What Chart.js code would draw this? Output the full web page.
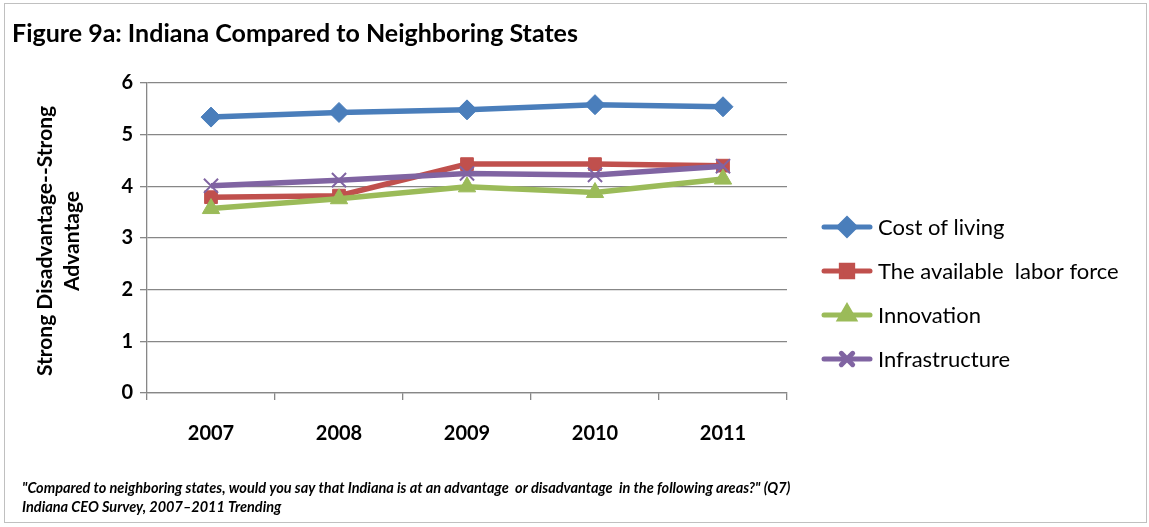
<!DOCTYPE html>
<html>
<head>
<meta charset="utf-8">
<script src="https://cdn.jsdelivr.net/npm/chart.js@4/dist/chart.umd.min.js"></script>
<style>
  html, body { margin: 0; padding: 0; background: #fff; }
  #wrap { width: 1149px; height: 527px; }
</style>
</head>
<body>
<div id="wrap"><canvas id="chart" width="1149" height="527"></canvas></div>
<script>
// --- data ---
const years = ["2007", "2008", "2009", "2010", "2011"];
const costOfLiving = [5.34, 5.43, 5.48, 5.58, 5.54];
const laborForce = [3.79, 3.82, 4.43, 4.43, 4.40];
const innovation = [3.57, 3.76, 3.99, 3.88, 4.14];
const infrastructure = [4.01, 4.12, 4.25, 4.22, 4.39];
const yTicks = [0, 1, 2, 3, 4, 5, 6];

const titleText = "Figure 9a: Indiana Compared to Neighboring States";
const yTitle = ["Strong Disadvantage--Strong", "Advantage"];
const noteLines = [
  "\"Compared to neighboring states, would you say that Indiana is at an advantage  or disadvantage  in the following areas?\" (Q7)",
  "Indiana CEO Survey, 2007\u20132011 Trending"
];

const FONT = "Lato, 'Open Sans', sans-serif";
const gridColor = "#878787";

function series(label, data, color, style, radius, order) {
  return {
    label, data,
    borderColor: color,
    backgroundColor: color,
    borderWidth: 5.5,
    pointStyle: style,
    pointRadius: radius,
    pointHoverRadius: radius,
    pointBorderWidth: style === "crossRot" ? 2 : 1,
    tension: 0,
    order
  };
}

const datasets = [
  series("Cost of living", costOfLiving, "#4a7ebb", "rectRot", 10, 4),
  series("The available  labor force", laborForce, "#c0504d", "rect", 9, 3),
  series("Innovation", innovation, "#9bbb59", "triangle", 10, 2),
  series("Infrastructure", infrastructure, "#8064a2", "crossRot", 10, 1)
];

// text, frame and Excel-style legend
const decorations = {
  id: "decorations",
  afterDraw(chart) {
    const ctx = chart.ctx;
    ctx.save();
    // outer frame
    ctx.strokeStyle = "#c0c0c0";
    ctx.lineWidth = 1;
    ctx.strokeRect(4.5, 3.5, 1142, 519);

    // title
    ctx.fillStyle = "#000";
    ctx.textBaseline = "middle";
    ctx.textAlign = "left";
    ctx.font = "bold 25px " + FONT;
    ctx.fillText(titleText, 12, 34);

    // y axis title
    ctx.save();
    ctx.translate(45, 241);
    ctx.rotate(-Math.PI / 2);
    ctx.textAlign = "center";
    ctx.font = "bold 21px " + FONT;
    ctx.fillText(yTitle[0], 0, 0);
    ctx.fillText(yTitle[1], 0, 27);
    ctx.restore();

    // footnote
    ctx.font = "italic bold 14.5px " + FONT;
    ctx.fillText(noteLines[0], 22, 488);
    ctx.fillText(noteLines[1], 22, 507);

    // legend
    ctx.font = "22px " + FONT;
    chart.data.datasets.forEach((ds, i) => {
      const y = 227 + i * 44;
      ctx.strokeStyle = ds.borderColor;
      ctx.lineWidth = 5;
      ctx.lineCap = "round";
      ctx.beginPath();
      ctx.moveTo(824, y);
      ctx.lineTo(870, y);
      ctx.stroke();
      ctx.fillStyle = ds.backgroundColor;
      Chart.helpers.drawPoint(ctx, {
        pointStyle: ds.pointStyle,
        radius: 8,
        rotation: 0,
        borderWidth: ds.pointBorderWidth
      }, 847, y);
      ctx.fillStyle = "#000";
      ctx.fillText(ds.label, 878, y + 1);
    });
    ctx.restore();
  }
};

new Chart(document.getElementById("chart"), {
  type: "line",
  data: { labels: years, datasets },
  options: {
    responsive: false,
    animation: false,
    events: [],
    layout: { padding: { left: 0, top: 83, right: 362, bottom: 0 } },
    plugins: { legend: { display: false }, tooltip: { enabled: false } },
    scales: {
      x: {
        offset: true,
        afterFit(scale) { scale.height = 134; },
        grid: {
          offset: true,
          drawOnChartArea: false,
          drawTicks: true,
          tickLength: 7,
          color: gridColor,
          lineWidth: 1.3
        },
        border: { color: gridColor, width: 1.3 },
        ticks: {
          padding: 22,
          color: "#000",
          font: { family: FONT, size: 20, weight: "bold" }
        }
      },
      y: {
        min: 0,
        max: 6,
        afterFit(scale) { scale.width = 147; },
        afterBuildTicks(scale) { scale.ticks = yTicks.map(v => ({ value: v })); },
        grid: { color: gridColor, tickLength: 7, lineWidth: 1.3 },
        border: { color: gridColor, width: 1.3 },
        ticks: {
          padding: 7,
          color: "#000",
          font: { family: FONT, size: 20, weight: "bold" }
        }
      }
    }
  },
  plugins: [decorations]
});
</script>
</body>
</html>
